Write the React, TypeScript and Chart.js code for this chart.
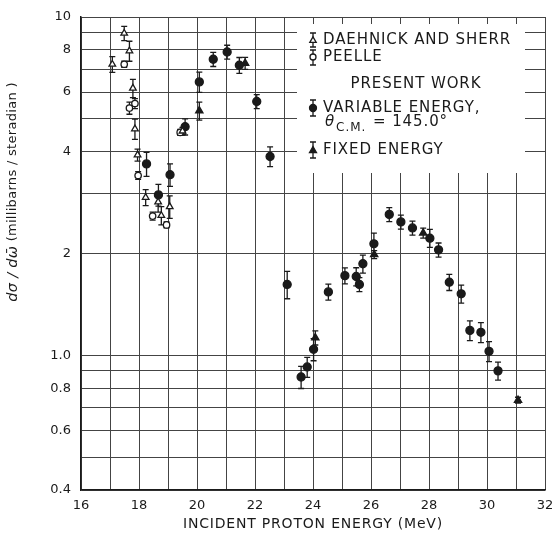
import React, { useEffect, useRef } from 'react';
import { Chart, registerables } from 'chart.js';

Chart.register(...registerables);

// ---- data ----
const daehnickX = [17.08, 17.49, 17.67, 17.79, 17.86, 17.95, 18.23, 18.66, 18.77, 19.06, 19.5];
const daehnickY = [7.25, 8.95, 7.94, 6.16, 4.67, 3.91, 2.93, 2.84, 2.59, 2.75, 4.6];
const daehnickErr = [0.39, 0.43, 0.54, 0.38, 0.32, 0.16, 0.16, 0.19, 0.16, 0.21, 0.12];

const peelleX = [17.49, 17.67, 17.86, 17.97, 18.47, 18.95, 19.42];
const peelleY = [7.25, 5.38, 5.55, 3.4, 2.58, 2.43, 4.56];
const peelleErr = [0.15, 0.22, 0.19, 0.09, 0.07, 0.05, 0.09];

const variableX = [18.26, 18.67, 19.07, 19.59, 20.08, 20.56, 21.04, 21.46, 22.06, 22.52, 23.11, 23.59, 23.8, 24.02, 24.53, 25.1, 25.49, 25.6, 25.72, 26.1, 26.63, 27.03, 27.43, 28.03, 28.33, 28.7, 29.11, 29.41, 29.79, 30.07, 30.38];
const variableY = [3.68, 2.98, 3.42, 4.74, 6.43, 7.5, 7.88, 7.2, 5.63, 3.87, 1.62, 0.863, 0.924, 1.042, 1.54, 1.72, 1.71, 1.62, 1.865, 2.136, 2.61, 2.48, 2.38, 2.22, 2.05, 1.645, 1.52, 1.185, 1.17, 1.028, 0.9];
const variableErr = [0.3, 0.22, 0.26, 0.26, 0.44, 0.36, 0.37, 0.39, 0.27, 0.26, 0.15, 0.065, 0.063, 0.078, 0.084, 0.094, 0.105, 0.077, 0.114, 0.16, 0.124, 0.118, 0.113, 0.136, 0.098, 0.09, 0.093, 0.08, 0.08, 0.07, 0.055];

const fixedX = [20.08, 21.66, 24.08, 26.11, 27.8, 31.07];
const fixedY = [5.28, 7.3, 1.127, 1.985, 2.3, 0.737];
const fixedErr = [0.32, 0.3, 0.054, 0.054, 0.078, 0.015];

const yTickValues = [0.4, 0.5, 0.6, 0.7, 0.8, 0.9, 1, 2, 3, 4, 5, 6, 7, 8, 9, 10];
const yLabelValues = [0.4, 0.6, 0.8, 1, 2, 4, 6, 8, 10];
const yLabelTexts = ['0.4', '0.6', '0.8', '1.0', '2', '4', '6', '8', '10'];
const xLabelValues = [16, 18, 20, 22, 24, 26, 28, 30, 32];

const errorArrays = [daehnickErr, peelleErr, variableErr, fixedErr];

const INK = '#1a1a1a';
const FONT = '"DejaVu Sans", sans-serif';

function drawMarker(ctx: CanvasRenderingContext2D, kind: string, open: boolean, x: number, y: number, r: number) {
  ctx.save();
  ctx.beginPath();
  if (kind === 'circle') {
    ctx.arc(x, y, r, 0, Math.PI * 2);
  } else {
    const h = r * 1.5;
    ctx.moveTo(x, y - h * 0.66);
    ctx.lineTo(x + r, y + h * 0.5);
    ctx.lineTo(x - r, y + h * 0.5);
    ctx.closePath();
  }
  ctx.fillStyle = open ? '#fff' : INK;
  ctx.strokeStyle = INK;
  ctx.lineWidth = 1.3;
  ctx.fill();
  ctx.stroke();
  ctx.restore();
}

function drawBar(ctx: CanvasRenderingContext2D, x: number, y1: number, y2: number) {
  ctx.beginPath();
  ctx.moveTo(x, y1);
  ctx.lineTo(x, y2);
  ctx.moveTo(x - 3, y1);
  ctx.lineTo(x + 3, y1);
  ctx.moveTo(x - 3, y2);
  ctx.lineTo(x + 3, y2);
  ctx.stroke();
}

const paperPlugin = {
  id: 'paper',
  beforeDatasetsDraw(chart: any) {
    const ctx: CanvasRenderingContext2D = chart.ctx;
    const xs = chart.scales.x;
    const ys = chart.scales.y;
    // legend panel (grid interrupted)
    ctx.save();
    ctx.fillStyle = '#fff';
    ctx.fillRect(297, 24, 228, 149);
    ctx.fillStyle = INK;
    ctx.strokeStyle = INK;
    ctx.lineWidth = 1.3;
    ctx.font = `15px ${FONT}`;
    (ctx as any).letterSpacing = '0.9px';
    ctx.textBaseline = 'middle';
    ctx.textAlign = 'left';
    const sx = 313;
    const tx = 323;
    drawBar(ctx, sx, 33, 47);
    drawMarker(ctx, 'triangle', true, sx, 40, 3.2);
    ctx.fillText('DAEHNICK AND SHERR', tx, 40);
    drawBar(ctx, sx, 50, 65);
    drawMarker(ctx, 'circle', true, sx, 57, 3);
    ctx.fillText('PEELLE', tx, 57);
    ctx.textAlign = 'center';
    ctx.fillText('PRESENT WORK', 416, 84);
    ctx.textAlign = 'left';
    drawBar(ctx, sx, 100, 116);
    drawMarker(ctx, 'circle', false, sx, 108, 3.5);
    ctx.fillText('VARIABLE ENERGY,', tx, 108);
    (ctx as any).letterSpacing = '0px';
    ctx.font = `italic 15px ${FONT}`;
    ctx.fillText('\u03b8', 325, 122);
    ctx.font = `12px ${FONT}`;
    (ctx as any).letterSpacing = '1px';
    ctx.fillText('C.M.', 336, 128);
    ctx.font = `15px ${FONT}`;
    (ctx as any).letterSpacing = '0.9px';
    ctx.fillText('= 145.0\u00b0', 373, 122);
    drawBar(ctx, sx, 142, 158);
    drawMarker(ctx, 'triangle', false, sx, 150, 3.5);
    ctx.fillText('FIXED ENERGY', tx, 150);
    (ctx as any).letterSpacing = '0px';
    ctx.restore();

    // error bars
    ctx.save();
    ctx.strokeStyle = INK;
    ctx.lineWidth = 1.3;
    chart.data.datasets.forEach((ds: any, di: number) => {
      const errs = errorArrays[di];
      ds.data.forEach((p: any, i: number) => {
        const px = xs.getPixelForValue(p.x);
        const y1 = ys.getPixelForValue(p.y + errs[i]);
        const y2 = ys.getPixelForValue(p.y - errs[i]);
        drawBar(ctx, px, y1, y2);
      });
    });
    ctx.restore();
  },
  afterDraw(chart: any) {
    const ctx: CanvasRenderingContext2D = chart.ctx;
    const area = chart.chartArea;
    ctx.save();
    ctx.fillStyle = INK;
    ctx.font = `14px ${FONT}`;
    ctx.textAlign = 'center';
    ctx.textBaseline = 'middle';
    (ctx as any).letterSpacing = '0.8px';
    ctx.fillText('INCIDENT PROTON ENERGY (MeV)', (area.left + area.right) / 2, 524);
    (ctx as any).letterSpacing = '0.3px';
    // y title
    ctx.translate(13, 192);
    ctx.rotate(-Math.PI / 2);
    const p1 = 'd\u03c3 / d\u03c9\u0304';
    const p2 = ' (millibarns / steradian )';
    ctx.font = `italic 14.5px ${FONT}`;
    const w1 = ctx.measureText(p1).width;
    ctx.font = `13px ${FONT}`;
    const w2 = ctx.measureText(p2).width;
    const start = -(w1 + w2) / 2;
    ctx.textAlign = 'left';
    ctx.font = `italic 14.5px ${FONT}`;
    ctx.fillText(p1, start, 0);
    ctx.font = `13px ${FONT}`;
    ctx.fillText(p2, start + w1, 0);
    ctx.restore();
  },
};

function makeData(xs: number[], ys: number[]) {
  return xs.map((x, i) => ({ x, y: ys[i] }));
}

export default function App() {
  const ref = useRef<HTMLCanvasElement | null>(null);
  useEffect(() => {
    document.body.style.margin = '0';
    const canvas = ref.current;
    if (!canvas) return;
    const common = { showLine: false, borderColor: INK, borderWidth: 1.3, pointHoverRadius: 4 };
    const chart = new Chart(canvas, {
      type: 'scatter',
      data: {
        datasets: [
          { ...common, label: 'DAEHNICK AND SHERR', data: makeData(daehnickX, daehnickY), pointStyle: 'triangle', pointRadius: 3.8, backgroundColor: '#fff' },
          { ...common, label: 'PEELLE', data: makeData(peelleX, peelleY), pointStyle: 'circle', pointRadius: 3.2, backgroundColor: '#fff' },
          { ...common, label: 'VARIABLE ENERGY', data: makeData(variableX, variableY), pointStyle: 'circle', pointRadius: 4, backgroundColor: INK },
          { ...common, label: 'FIXED ENERGY', data: makeData(fixedX, fixedY), pointStyle: 'triangle', pointRadius: 4.2, backgroundColor: INK },
        ],
      } as any,
      options: {
        responsive: false,
        animation: false,
        events: [],
        layout: { padding: { top: 17, right: 10, left: 0, bottom: 0 } },
        plugins: { legend: { display: false }, tooltip: { enabled: false } },
        scales: {
          x: {
            type: 'linear',
            min: 16,
            max: 32,
            afterFit: (s: any) => { s.height = 44; s.paddingRight = 0; s.paddingLeft = 0; },
            ticks: {
              stepSize: 1,
              autoSkip: false,
              maxRotation: 0,
              padding: 8,
              color: INK,
              font: { family: FONT, size: 13 },
              callback: (v: any) => (xLabelValues.includes(Number(v)) ? String(v) : ''),
            },
            grid: { color: '#444', lineWidth: 1, drawTicks: false },
            border: { display: true, color: INK, width: 1.5 },
          },
          y: {
            type: 'logarithmic',
            min: 0.4,
            max: 10,
            afterFit: (s: any) => { s.width = 81; s.paddingTop = 0; s.paddingBottom = 0; },
            afterBuildTicks: (s: any) => { s.ticks = yTickValues.map((v) => ({ value: v })); },
            ticks: {
              autoSkip: false,
              padding: 10,
              color: INK,
              font: { family: FONT, size: 13 },
              callback: (v: any) => {
                const idx = yLabelValues.indexOf(Number(v));
                return idx >= 0 ? yLabelTexts[idx] : '';
              },
            },
            grid: { color: '#444', lineWidth: 1, drawTicks: false },
            border: { display: true, color: INK, width: 1.5 },
          },
        },
      } as any,
      plugins: [paperPlugin],
    });
    return () => chart.destroy();
  }, []);
  return (
    <div style={{ width: 555, height: 534, background: '#fff' }}>
      <canvas ref={ref} width={555} height={534} style={{ width: 555, height: 534, display: 'block' }} />
    </div>
  );
}
